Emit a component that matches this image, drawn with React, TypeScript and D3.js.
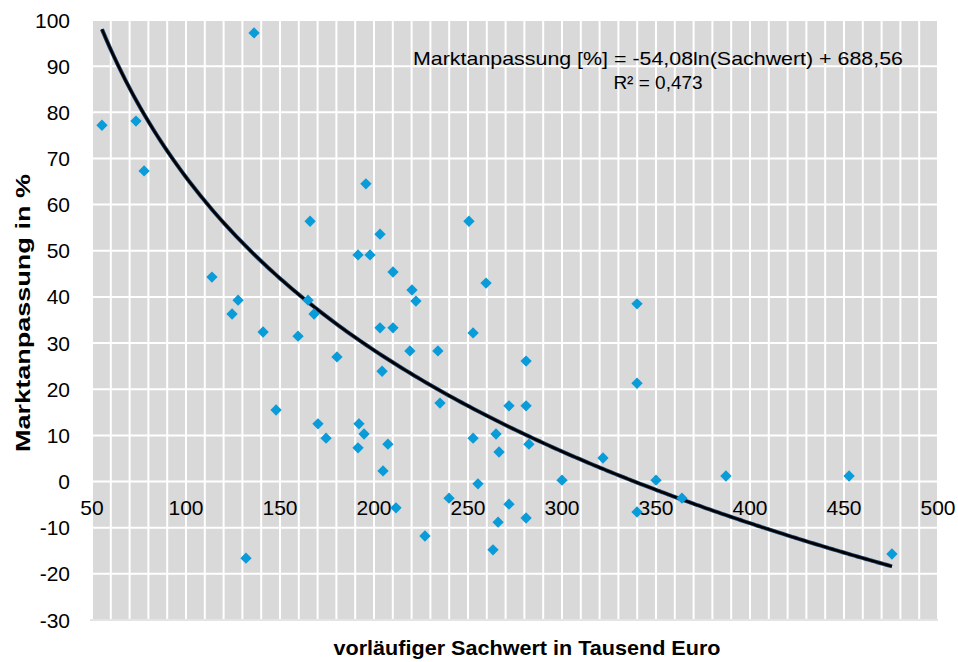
import React from "react";
import * as d3 from "d3";

// Sachwert (Tausend Euro)
const sachwert: number[] = [
  55.3, 73.4, 77.7, 136.2, 113.8, 127.7, 124.5, 141.0, 159.6, 147.9,
  131.9, 166.0, 164.9, 168.1, 180.3, 170.2, 174.5, 191.5, 195.7, 197.9,
  203.2, 203.2, 210.1, 210.1, 220.2, 222.3, 219.1, 234.0, 204.3, 192.0,
  194.7, 191.5, 207.4, 204.8, 211.7, 227.1, 235.1, 239.9, 250.5, 259.6,
  252.7, 280.9, 252.7, 255.3, 264.9, 266.5, 271.8, 280.9, 282.4, 271.8,
  266.0, 280.9, 263.3, 300.0, 321.8, 339.9, 339.9, 339.9, 350.0, 363.8,
  387.2, 452.7, 475.5,
];
// Marktanpassung (%)
const marktanpassung: number[] = [
  77.2, 78.1, 67.3, 97.2, 44.3, 39.3, 36.3, 32.4, 31.5, 15.5,
  -16.6, 56.4, 39.3, 36.3, 27.0, 12.5, 9.4, 49.1, 64.5, 49.1,
  53.6, 33.3, 45.4, 33.3, 41.5, 39.1, 28.3, 28.3, 23.9, 12.5,
  10.3, 7.3, 8.1, 2.3, -5.7, -11.8, 17.0, -3.6, 56.4, 43.0,
  32.2, 26.1, 9.4, -0.5, 10.3, 6.4, 16.4, 16.4, 8.1, -4.9,
  -8.8, -7.9, -14.8, 0.3, 5.1, 38.5, 21.3, -6.6, 0.3, -3.6,
  1.2, 1.2, -15.7,
];

const xTicks: number[] = [50, 100, 150, 200, 250, 300, 350, 400, 450, 500];
const yTicks: number[] = [100, 90, 80, 70, 60, 50, 40, 30, 20, 10, 0, -10, -20, -30];
const xMinorGrid: number[] = d3.range(50, 501, 10);

const trendSlope = -54.08;
const trendIntercept = 688.56;
const equationText = "Marktanpassung [%] = -54,08ln(Sachwert) + 688,56";
const r2Text = "R² = 0,473";
const xTitle = "vorläufiger Sachwert in Tausend Euro";
const yTitle = "Marktanpassung in %";

const W = 958;
const H = 662;
const plot = { left: 92, right: 938, top: 20, bottom: 620 };
const FONT = "'Liberation Sans', Arial, sans-serif";

export default function App() {
  const x = d3.scaleLinear().domain([50, 500]).range([plot.left, plot.right]);
  const y = d3.scaleLinear().domain([-30, 100]).range([plot.bottom, plot.top]);

  const trend = (v: number) => trendSlope * Math.log(v * 1000) + trendIntercept;
  const xmin = d3.min(sachwert) as number;
  const xmax = d3.max(sachwert) as number;
  const samples = d3.range(0, 201).map((i) => xmin + ((xmax - xmin) * i) / 200);
  const line = d3
    .line<number>()
    .x((v) => x(v))
    .y((v) => y(trend(v)))
    .curve(d3.curveMonotoneX);

  const diamond = d3.symbol().type(d3.symbolSquare).size(64)() as string;

  return (
    <svg
      width={W}
      height={H}
      style={{ position: "absolute", left: 0, top: 0, background: "#fff" }}
      fontFamily={FONT}
    >
      <rect
        x={plot.left}
        y={plot.top}
        width={plot.right - plot.left}
        height={plot.bottom - plot.top}
        fill="#d9d9d9"
      />
      {xMinorGrid.map((v) => (
        <line
          key={"gx" + v}
          x1={x(v)}
          x2={x(v)}
          y1={plot.top}
          y2={plot.bottom}
          stroke="#ffffff"
          strokeWidth={2}
        />
      ))}
      {yTicks.map((v) => (
        <line
          key={"gy" + v}
          x1={plot.left}
          x2={plot.right}
          y1={y(v)}
          y2={y(v)}
          stroke="#ffffff"
          strokeWidth={2}
        />
      ))}
      <line
        x1={plot.left - 2}
        x2={plot.right}
        y1={plot.bottom}
        y2={plot.bottom}
        stroke="#e4e4e4"
        strokeWidth={2}
      />

      {/* y tick labels */}
      {yTicks.map((v) => (
        <text
          key={"ty" + v}
          x={70}
          y={y(v)}
          dy="0.36em"
          textAnchor="end"
          fontSize={21}
          fill="#000"
        >
          {v}
        </text>
      ))}
      {/* x tick labels along y = 0 */}
      {xTicks.map((v) => (
        <text
          key={"tx" + v}
          x={x(v)}
          y={y(0) + 33}
          textAnchor="middle"
          fontSize={21}
          fill="#000"
        >
          {v}
        </text>
      ))}

      {/* trendline */}
      <path d={line(samples) || ""} fill="none" stroke="#1f3f66" strokeWidth={4} />
      <path d={line(samples) || ""} fill="none" stroke="#000000" strokeWidth={2.4} />

      {/* points */}
      {sachwert.map((sv, i) => (
        <path
          key={"p" + i}
          d={diamond}
          transform={`translate(${x(sv)},${y(marktanpassung[i])}) rotate(45)`}
          fill="#0a9bd9"
        />
      ))}

      {/* equation */}
      <text x={658} y={65} textAnchor="middle" fontSize={19} textLength={490} lengthAdjust="spacingAndGlyphs" fill="#000">
        {equationText}
      </text>
      <text x={658} y={89} textAnchor="middle" fontSize={19} fill="#000">
        {r2Text}
      </text>

      {/* axis titles */}
      <text
        x={527}
        y={655}
        textAnchor="middle"
        fontSize={21}
        fontWeight="bold"
        textLength={387}
        lengthAdjust="spacingAndGlyphs"
        fill="#000"
      >
        {xTitle}
      </text>
      <text
        transform={`translate(30, 313) rotate(-90)`}
        textAnchor="middle"
        fontSize={21}
        fontWeight="bold"
        textLength={278}
        lengthAdjust="spacingAndGlyphs"
        fill="#000"
      >
        {yTitle}
      </text>
    </svg>
  );
}
